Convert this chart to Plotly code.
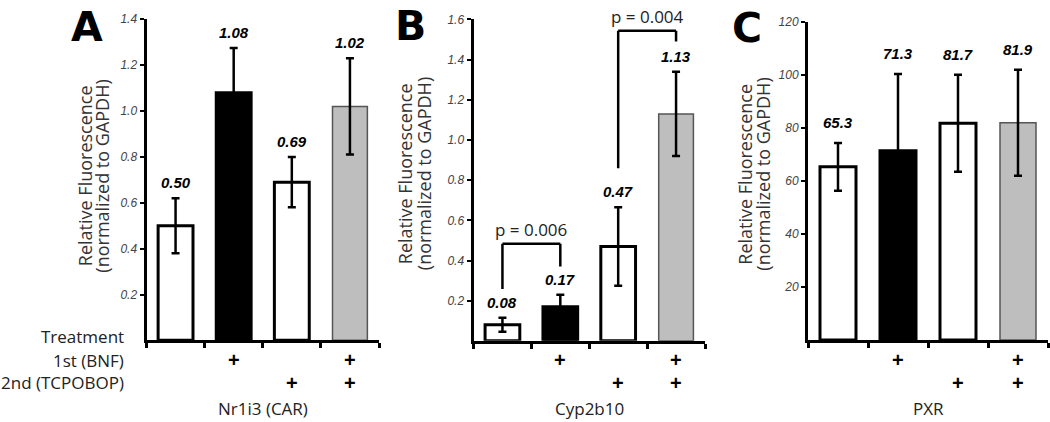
import plotly.graph_objects as go

# ---------------- data ----------------
panels = ["A", "B", "C"]
genes = ["Nr1i3 (CAR)", "Cyp2b10", "PXR"]
groups = ["control", "BNF", "TCPOBOP", "BNF+TCPOBOP"]
first_bnf = ["", "+", "", "+"]
second_tcpobop = ["", "", "+", "+"]

car_values = [0.50, 1.08, 0.69, 1.02]
car_errors = [0.12, 0.195, 0.11, 0.21]
cyp_values = [0.08, 0.17, 0.47, 1.13]
cyp_errors = [0.035, 0.06, 0.195, 0.21]
pxr_values = [65.3, 71.3, 81.7, 81.9]
pxr_errors = [9.0, 29.0, 18.3, 20.0]

car_ticks = [0.2, 0.4, 0.6, 0.8, 1.0, 1.2, 1.4]
cyp_ticks = [0.2, 0.4, 0.6, 0.8, 1.0, 1.2, 1.4, 1.6]
pxr_ticks = [20, 40, 60, 80, 100, 120]

# ---------------- layout constants ----------------
W, H = 1050, 422
def px(x):
    return x / W
def py(y):
    return (H - y) / H

fill_colors = ["white", "black", "white", "#bebebe"]
line_colors = ["black", "black", "black", "#555555"]
line_widths = [3, 3, 3, 1.5]

panel_specs = [
    dict(values=car_values, errors=car_errors, ticks=car_ticks, yr=[0, 1.4], fmt=".1f",
         xd=[146.5, 379], yd=[339, 12.5], title_x=[85, 102.5], title_y=172, letter=(87, 20), lshift=5),
    dict(values=cyp_values, errors=cyp_errors, ticks=cyp_ticks, yr=[0, 1.6], fmt=".1f",
         xd=[473.5, 705], yd=[339.5, 12.7], title_x=[405, 424], title_y=170, letter=(410, 19), lshift=5),
    dict(values=pxr_values, errors=pxr_errors, ticks=pxr_ticks, yr=[0, 120], fmt="d",
         xd=[808, 1048], yd=[338.5, 15], title_x=[745.5, 763.5], title_y=170, letter=(747, 21), lshift=10),
]

FONT = "Liberation Sans, Arial, sans-serif"
LBL = "Open Sans, Liberation Sans, sans-serif"

fig = go.Figure()
annotations = []
shapes = []
xpos = [1, 2, 3, 4]

for i, sp in enumerate(panel_specs):
    n = "" if i == 0 else str(i + 1)
    xa, ya = "x" + n, "y" + n
    fig.add_trace(go.Bar(
        x=xpos, y=sp["values"], width=0.6,
        marker=dict(color=fill_colors, line=dict(color=line_colors, width=line_widths)),
        error_y=dict(type="data", array=sp["errors"], visible=True, color="black",
                     thickness=2.5, width=4),
        xaxis=xa, yaxis=ya, showlegend=False, hoverinfo="skip",
    ))
    xkey = "xaxis" + n
    ykey = "yaxis" + n
    fig.layout[xkey] = dict(
        domain=[px(sp["xd"][0]), px(sp["xd"][1])], range=[0.5, 4.5], anchor=ya,
        showline=True, linewidth=3, linecolor="black", mirror=False,
        ticks="outside", ticklen=5, tickwidth=2.5, tickcolor="black",
        tickvals=[0.5, 1.5, 2.5, 3.5, 4.5], ticktext=[""] * 5,
        showgrid=False, zeroline=False, fixedrange=True,
    )
    fig.layout[ykey] = dict(
        domain=[py(sp["yd"][0]), py(sp["yd"][1])], range=sp["yr"], anchor=xa,
        showline=True, linewidth=3, linecolor="black",
        ticks="outside", ticklen=4, tickwidth=2, tickcolor="black",
        tickvals=sp["ticks"], tickformat=sp["fmt"],
        tickfont=dict(family=FONT, size=12, color="#444444", style="italic"),
        showgrid=False, zeroline=False, fixedrange=True,
    )
    # value labels
    for xv, v, e in zip(xpos, sp["values"], sp["errors"]):
        annotations.append(dict(
            x=xv, y=v + e, xref=xa, yref=ya, xanchor="center", yanchor="bottom", yshift=sp["lshift"],
            text="<b><i>%s</i></b>" % (("%.2f" % v) if i < 2 else ("%.1f" % v)),
            showarrow=False, font=dict(family=FONT, size=15, color="black"),
        ))
    # plus signs
    for xv, a, b in zip(xpos, first_bnf, second_tcpobop):
        if a:
            annotations.append(dict(x=xv, y=py(359), xref=xa, yref="paper", text="<b>+</b>",
                                    xanchor="center", yanchor="middle",
                                    showarrow=False, font=dict(family=FONT, size=20, color="black")))
        if b:
            annotations.append(dict(x=xv, y=py(382), xref=xa, yref="paper", text="<b>+</b>",
                                    xanchor="center", yanchor="middle",
                                    showarrow=False, font=dict(family=FONT, size=20, color="black")))
    # gene label
    annotations.append(dict(x=2.5, y=py(408), xref=xa, yref="paper", text=genes[i],
                            xanchor="center", yanchor="middle",
                            showarrow=False, font=dict(family=LBL, size=17, color="#222222")))
    # y titles
    for tx, txt in zip(sp["title_x"], ["Relative Fluorescence", "(normalized to GAPDH)"]):
        annotations.append(dict(x=px(tx), y=py(sp["title_y"]), xref="paper", yref="paper",
                                xanchor="center", yanchor="middle",
                                text=txt, textangle=-90, showarrow=False,
                                font=dict(family=LBL, size=18, color="#333333")))
    # panel letter
    annotations.append(dict(x=px(sp["letter"][0]), y=py(sp["letter"][1]), xref="paper", yref="paper",
                            xanchor="center", yanchor="middle",
                            text="<b>%s</b>" % panels[i], showarrow=False,
                            font=dict(family="DejaVu Sans, sans-serif", size=41, color="black")))

# treatment row labels
for txt, yy in [("Treatment", 335), ("1st (BNF)", 359), ("2nd (TCPOBOP)", 382)]:
    annotations.append(dict(x=px(126), y=py(yy), xref="paper", yref="paper", xanchor="right",
                            yanchor="middle",
                            text=txt, showarrow=False, font=dict(family=LBL, size=17, color="#222222")))

# p-value brackets in panel B
brackets = [
    dict(x0=1, x1=2, top=0.484, l=0.258, r=0.37, text="p = 0.006"),
    dict(x0=3, x1=4, top=1.544, l=0.859, r=1.49, text="p = 0.004"),
]
for br in brackets:
    for (xa0, ya0, xa1, ya1) in [(br["x0"], br["l"], br["x0"], br["top"]),
                                 (br["x0"], br["top"], br["x1"], br["top"]),
                                 (br["x1"], br["top"], br["x1"], br["r"])]:
        shapes.append(dict(type="line", xref="x2", yref="y2", x0=xa0, y0=ya0, x1=xa1, y1=ya1,
                           line=dict(color="black", width=2.5)))
    annotations.append(dict(x=(br["x0"] + br["x1"]) / 2, y=br["top"], xref="x2", yref="y2",
                            xanchor="center", yanchor="bottom", yshift=1, text=br["text"],
                            showarrow=False, font=dict(family=LBL, size=17, color="#222222")))

fig.update_layout(
    width=W, height=H, margin=dict(l=0, r=0, t=0, b=0),
    paper_bgcolor="white", plot_bgcolor="white",
    annotations=annotations, shapes=shapes, bargap=0.4,
)

fig.write_html("out.html", config={"displayModeBar": False},
               post_script="document.body.style.margin='0px';document.body.style.overflow='hidden';")
